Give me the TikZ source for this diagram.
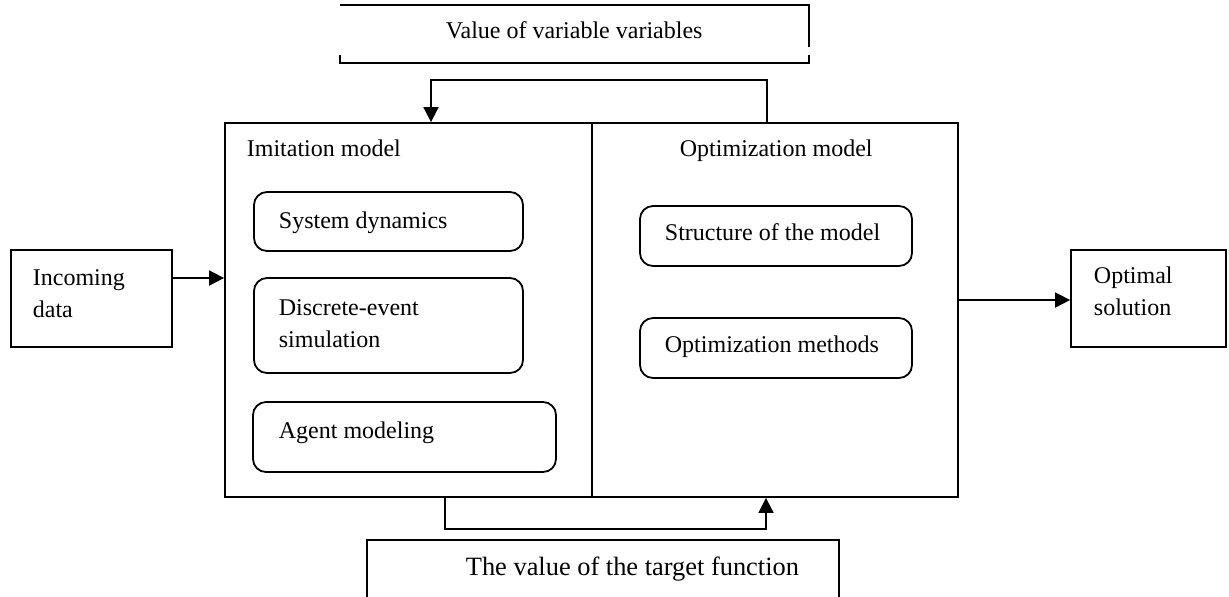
\documentclass[tikz,border=0pt]{standalone}
\usepackage{fontspec}
\setmainfont{Liberation Serif}
\usetikzlibrary{arrows.meta}
\begin{document}
\begin{tikzpicture}[x=0.5pt,y=-0.5pt,line width=0.9pt,
  box/.style={draw,rectangle,inner sep=0pt},
  rbox/.style={draw,rectangle,rounded corners=6.5pt,inner sep=0pt},
  lbl/.style={anchor=base west,inner sep=0pt,align=left,font=\fontsize{12}{16}\selectfont},
  arr/.style={-{Triangle[length=7.5pt,width=7.5pt]}}]

\useasboundingbox (0,0) rectangle (1229,596);

\node [box,minimum width=80.5pt,minimum height=48.5pt] (inbox) at (91.5,298.5) {};
\node [box,minimum width=77.5pt,minimum height=48.5pt] (outbox) at (1148.5,298.5) {};
\node [box,minimum width=183.5pt,minimum height=187pt] (imit) at (408.5,310) {};
\node [box,minimum width=183pt,minimum height=187pt] (optim) at (775,310) {};
\node [rbox,minimum width=134.5pt,minimum height=29.5pt] (sd) at (388.5,221.5) {};
\node [rbox,minimum width=134.5pt,minimum height=47.5pt] (des) at (388.5,325.5) {};
\node [rbox,minimum width=151.5pt,minimum height=35pt] (am) at (404.5,437) {};
\node [rbox,minimum width=136pt,minimum height=30pt] (sm) at (776,236) {};
\node [rbox,minimum width=136pt,minimum height=30pt] (om) at (776,348) {};

\draw (340,5) -- (809,5) -- (809,47);
\draw (809,55) -- (809,63) -- (340,63) -- (340,55);
\draw (367,600) -- (367,540) -- (839,540) -- (839,600);

\draw [arr] (inbox.east |- 0,278) -- (imit.west |- 0,278);
\draw [arr] (optim.east |- 0,300) -- (outbox.west |- 0,300);
\draw [arr] (optim.north -| 767,0) -- (767,80) -| (imit.north -| 431,0);
\draw [arr] (imit.south -| 445,0) -- (445,529) -| (optim.south -| 766,0);

\node [lbl] (tval) at (445,38) {Value of variable variables};
\node [lbl] (timit) at (246,156) {Imitation model};
\node [lbl] (toptim) at (679,156) {Optimization model};
\node [lbl] (tsd) at (278,228) {System dynamics};
\node [lbl] (tdes) at (278,347) {Discrete-event\\simulation};
\node [lbl] (tam) at (278,438) {Agent modeling};
\node [lbl] (tsm) at (664,240) {Structure of the model};
\node [lbl] (tom) at (664,352) {Optimization methods};
\node [lbl] (tin) at (32,317) {Incoming\\data};
\node [lbl] (tout) at (1093,315) {Optimal\\solution};
\node [lbl,font=\fontsize{13.2}{16}\selectfont] (ttarget) at (465,575) {The value of the target function};
\end{tikzpicture}
\end{document}
